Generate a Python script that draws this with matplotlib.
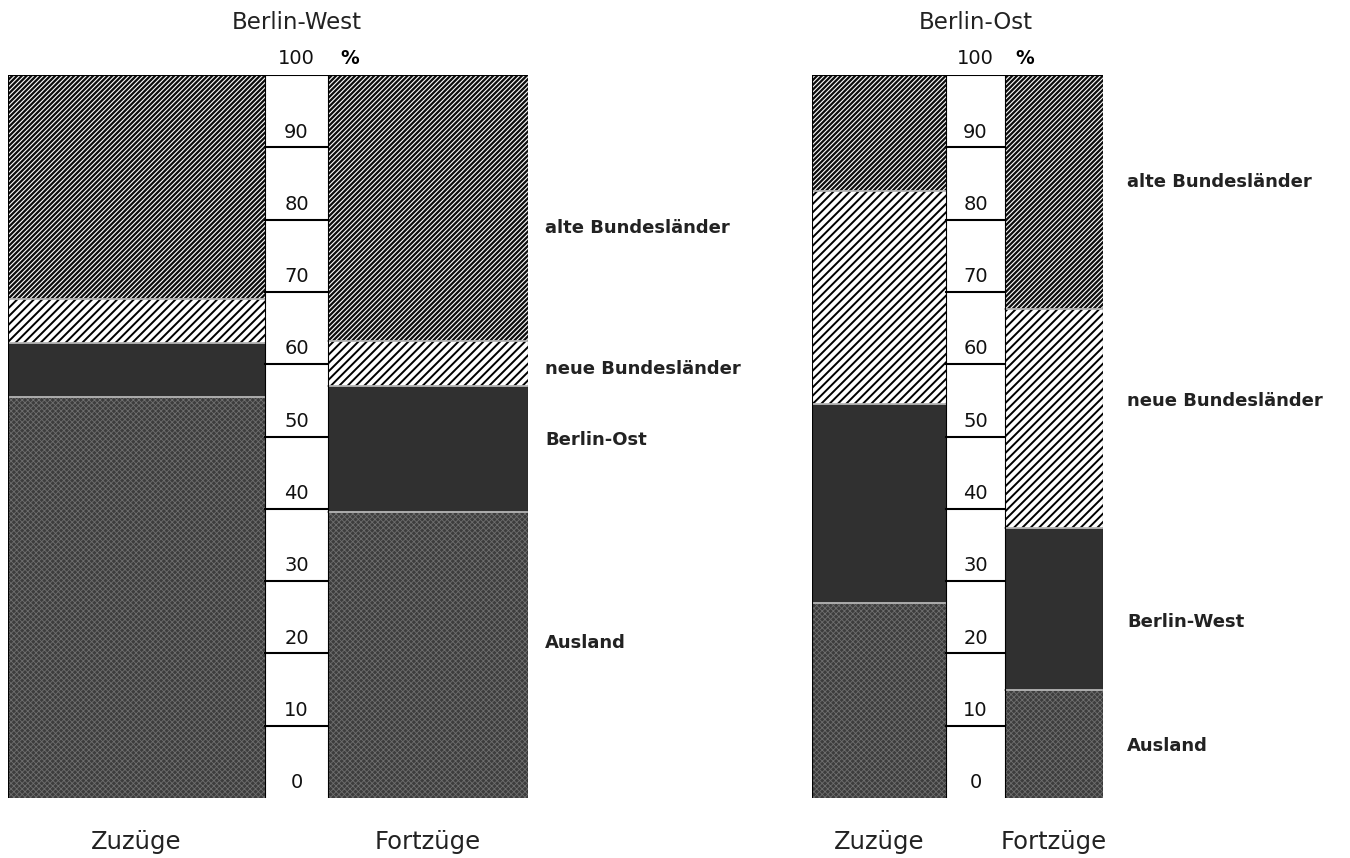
import numpy as np
import matplotlib.pyplot as plt
import matplotlib as mpl

# shares in percent, bottom to top
west_parts = ['Ausland', 'Berlin-Ost', 'neue Bundesländer', 'alte Bundesländer']
west_zuzuege = [55.5, 7.5, 6.0, 31.0]
west_fortzuege = [39.5, 17.5, 6.2, 36.8]

ost_parts = ['Ausland', 'Berlin-West', 'neue Bundesländer', 'alte Bundesländer']
ost_zuzuege = [27.0, 27.5, 29.5, 16.0]
ost_fortzuege = [15.0, 22.3, 30.3, 32.4]

scale_ticks = [0, 10, 20, 30, 40, 50, 60, 70, 80, 90]

# one style per stacked segment, bottom to top (second item = hatch linewidth)
STYLES = [
    (dict(facecolor='#3d3d3d', edgecolor='#6e6e6e', hatch='xxxxxx'), 0.6),  # Ausland
    (dict(facecolor='#303030', edgecolor='#303030', hatch=None), 1.0),      # Berlin
    (dict(facecolor='white', edgecolor='black', hatch='////'), 1.4),        # neue
    (dict(facecolor='#0d0d0d', edgecolor='white', hatch='///////'), 0.8),   # alte
]

mpl.rcParams['hatch.linewidth'] = 1.1
plt.rcParams['font.family'] = ['DejaVu Sans']

W, H = 1350, 858
fig = plt.figure(figsize=(W / 100, H / 100), dpi=100)

TOP_PX, BOT_PX = 75, 798


def draw_panel(left_px, widths, title, parts, zuzuege, fortzuege,
               label_pos, pct_x):
    total = sum(widths)
    ax = fig.add_axes([left_px / W, (H - BOT_PX) / H, total / W,
                       (BOT_PX - TOP_PX) / H])
    ax.set_xlim(0, total)
    ax.set_ylim(0, 100)
    ax.axis('off')

    w_zu, w_sc, w_fo = widths
    x_zu, x_sc, x_fo = 0, w_zu, w_zu + w_sc

    for x0, w, vals in [(x_zu, w_zu, zuzuege), (x_fo, w_fo, fortzuege)]:
        bottoms = np.concatenate([[0], np.cumsum(vals)[:-1]])
        for v, b, (st, hlw) in zip(vals, bottoms, STYLES):
            with mpl.rc_context({'hatch.linewidth': hlw}):
                bars = ax.bar(x0, v, width=w, bottom=b, align='edge',
                              linewidth=0, **st)
                for p in bars:
                    if hasattr(p, 'set_hatch_linewidth'):
                        p.set_hatch_linewidth(hlw)
        # light seam between segments
        for b in bottoms[1:]:
            ax.plot([x0, x0 + w], [b, b], color='#b5b5b5', lw=1.3)
        ax.plot([x0, x0], [0, 100], color='black', lw=0.8)
        ax.plot([x0 + w, x0 + w], [0, 100], color='black', lw=0.8)

    # scale column
    ax.bar(x_sc, 100, width=w_sc, bottom=0, align='edge',
           facecolor='white', edgecolor='none')
    ax.plot([0, total], [100, 100], color='black', lw=1.5)
    cx = x_sc + w_sc / 2
    for t in scale_ticks:
        if t > 0:
            ax.plot([x_sc, x_sc + w_sc], [t, t], color='black', lw=1.5)
        ax.text(cx, t + 0.8, str(t), ha='center', va='bottom',
                fontsize=14, color='#111111')
    ax.text(cx, 100.9, '100', ha='center', va='bottom', fontsize=14,
            color='#111111')
    ax.text(pct_x, 100.9, '%', ha='center', va='bottom', fontsize=13.5,
            fontweight='bold')

    ax.text(cx, 107.3, title, ha='center', va='center', fontsize=16.5,
            color='#222222')
    ax.text(x_zu + w_zu / 2, -6.1, 'Zuzüge', ha='center', va='center',
            fontsize=17.5, color='#222222')
    ax.text(x_fo + w_fo / 2, -6.1, 'Fortzüge', ha='center', va='center',
            fontsize=17.5, color='#222222')

    lx, ly = label_pos
    for name, y in zip(parts, ly):
        ax.text(lx, y, name, ha='left', va='center', fontsize=13,
                fontweight='bold', color='#222222', clip_on=False)
    return ax


# label heights (percent) for the names right of each panel
draw_panel(8, (257, 63, 200), 'Berlin-West', west_parts,
           west_zuzuege, west_fortzuege,
           (537, [21.4, 49.5, 59.3, 78.8]), 342)
draw_panel(812, (134, 59, 98), 'Berlin-Ost', ost_parts,
           ost_zuzuege, ost_fortzuege,
           (315, [7.2, 24.3, 54.9, 85.2]), 213)

fig.savefig('out.png', dpi=100, facecolor='white')
